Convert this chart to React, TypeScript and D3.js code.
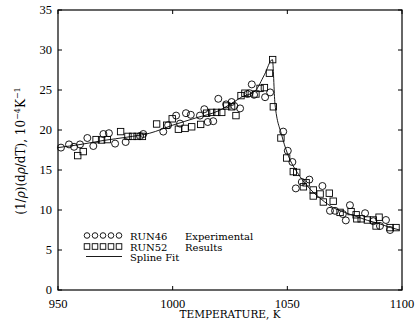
import React from "react";
import * as d3 from "d3";

// RUN46 measurements (temperature K, value 10^-4 K^-1)
const run46T = [951.3, 954.8, 957, 959.6, 962.8, 965.4, 969.8, 972.2, 974.9, 979.5, 985.8, 987.2, 995.9, 998, 1001.5, 1003.2, 1005.8, 1007.9, 1011.9, 1013.8, 1015.3, 1017.7, 1019.9, 1023.3, 1025.7, 1026.9, 1029.4, 1032.6, 1033.5, 1034.5, 1035.5, 1040.3, 1042.5, 1048.2, 1050.2, 1052.2, 1053.7, 1056.3, 1059.6, 1065.3, 1068.6, 1070.8, 1074.2, 1075.5, 1077.3, 1083.9, 1087.5, 1090.4, 1093, 1094.8];
const run46V = [17.8, 18.2, 17.9, 18.2, 19.0, 18.0, 19.5, 19.6, 18.3, 18.5, 19.25, 19.5, 19.8, 20.6, 21.8, 20.8, 22.1, 21.9, 21.8, 22.6, 21.0, 21.1, 23.9, 23.2, 23.5, 23.0, 22.7, 24.5, 24.6, 25.7, 24.4, 24.1, 24.7, 19.8, 17.4, 16.0, 12.7, 13.5, 13.8, 13.0, 9.9, 9.9, 9.5, 8.7, 10.6, 9.6, 8.6, 8.0, 8.75, 7.5];

// RUN52 measurements
const run52T = [958.6, 961, 966.6, 969, 971.5, 977.3, 980.5, 982.5, 984.5, 986.8, 993, 997.4, 999.8, 1002.5, 1005.4, 1008.3, 1012.2, 1014.8, 1017, 1019.2, 1021.4, 1023.6, 1025.7, 1027.6, 1029.8, 1031.5, 1036.3, 1038.1, 1040, 1042.2, 1043.6, 1043.9, 1047.2, 1049.7, 1052.6, 1054.1, 1057, 1058.2, 1061.3, 1061.3, 1064.3, 1065.7, 1068.3, 1070, 1073, 1077.8, 1080, 1080.3, 1082.2, 1084.9, 1087.5, 1088.7, 1090, 1094.8, 1097.4];
const run52V = [16.8, 17.3, 18.8, 18.75, 18.8, 19.8, 19.2, 19.2, 19.2, 19.2, 20.75, 20.6, 21.4, 20.1, 20.2, 20.4, 20.7, 22.1, 22.2, 22.2, 22.2, 23.0, 22.9, 21.8, 24.3, 24.6, 24.5, 25.2, 25.3, 27.1, 28.8, 22.9, 19.0, 16.5, 14.8, 14.7, 12.9, 13.4, 12.5, 11.75, 12.0, 11.0, 12.1, 11.1, 9.7, 9.8, 9.4, 8.9, 8.9, 8.75, 8.75, 8.0, 9.1, 7.8, 7.8];

// Spline fit knots
const splineT = [950, 960, 970, 980, 990, 1000, 1010, 1020, 1025, 1030, 1036, 1040, 1043.5, 1044.6, 1047.5, 1050, 1055, 1060, 1065, 1070, 1075, 1080, 1085, 1090, 1095, 1099];
const splineV = [17.8, 18.2, 18.7, 19.1, 19.6, 20.6, 21.5, 22.4, 23.2, 24.1, 24.9, 26.9, 28.8, 23.3, 19.4, 17.1, 14.4, 12.6, 11.3, 10.3, 9.7, 9.2, 8.7, 8.3, 7.8, 7.5];

const xTicks = [950, 1000, 1050, 1100];
const yTicks = [0, 5, 10, 15, 20, 25, 30, 35];

const W = 418, H = 327;
const M = { left: 58, right: 402, top: 10, bottom: 290 };
const NUM_FONT = "'Liberation Serif', serif";
const TEXT_FONT = "'DejaVu Serif', serif";

export default function App() {
  const x = d3.scaleLinear().domain([950, 1100]).range([M.left, M.right]);
  const y = d3.scaleLinear().domain([0, 35]).range([M.bottom, M.top]);

  const fit = d3
    .line<number>()
    .x((_, i) => x(splineT[i]))
    .y((v) => y(v))
    .curve(d3.curveMonotoneX)(splineV) as string;

  const tick = 4;
  const sq = 6.4;

  return (
    <svg width={W} height={H} style={{ position: "absolute", left: 0, top: 0, background: "#fff" }}>
      {/* spline */}
      <path d={fit} fill="none" stroke="#000" strokeWidth={0.9} />

      {/* RUN46 circles */}
      {run46T.map((t, i) => (
        <circle key={"c" + i} cx={x(t)} cy={y(run46V[i])} r={3.5} fill="none" stroke="#000" strokeWidth={0.9} />
      ))}
      {/* RUN52 squares */}
      {run52T.map((t, i) => (
        <rect key={"s" + i} x={x(t) - sq / 2} y={y(run52V[i]) - sq / 2} width={sq} height={sq} fill="none" stroke="#000" strokeWidth={0.9} />
      ))}

      {/* frame */}
      <rect x={M.left} y={M.top} width={M.right - M.left} height={M.bottom - M.top} fill="none" stroke="#000" strokeWidth={1.2} />

      {/* y ticks, both sides */}
      {yTicks.map((v) => (
        <g key={"y" + v}>
          <line x1={M.left} x2={M.left + tick} y1={y(v)} y2={y(v)} stroke="#000" strokeWidth={1} />
          <line x1={M.right} x2={M.right - tick} y1={y(v)} y2={y(v)} stroke="#000" strokeWidth={1} />
          <text x={M.left - 6} y={y(v)} dy="0.35em" textAnchor="end" fontSize={12.5} fontFamily={NUM_FONT}>{v}</text>
        </g>
      ))}
      {/* x ticks, top and bottom */}
      {xTicks.map((t) => (
        <g key={"x" + t}>
          <line x1={x(t)} x2={x(t)} y1={M.bottom} y2={M.bottom - tick} stroke="#000" strokeWidth={1} />
          <line x1={x(t)} x2={x(t)} y1={M.top} y2={M.top + tick} stroke="#000" strokeWidth={1} />
          <text x={x(t)} y={308} textAnchor="middle" fontSize={12.5} fontFamily={NUM_FONT}>{t}</text>
        </g>
      ))}

      {/* axis titles */}
      <text x={230} y={318} textAnchor="middle" fontSize={10.5} fontFamily={TEXT_FONT}>TEMPERATURE,  K</text>
      <text transform={`translate(25,151) rotate(-90)`} textAnchor="middle" fontSize={12} fontFamily={TEXT_FONT}>
        <tspan>(1/</tspan><tspan fontStyle="italic">ρ</tspan><tspan>)(d</tspan><tspan fontStyle="italic">ρ</tspan><tspan>/dT),  10</tspan>
        <tspan dy={-5} fontSize={8}>−4</tspan>
        <tspan dy={5}>K</tspan>
        <tspan dy={-5} fontSize={8}>−1</tspan>
      </text>

      {/* legend */}
      {[0, 1, 2, 3, 4].map((k) => (
        <circle key={"lc" + k} cx={87 + k * 8} cy={235.5} r={2.8} fill="none" stroke="#000" strokeWidth={0.9} />
      ))}
      {[0, 1, 2, 3, 4].map((k) => (
        <rect key={"ls" + k} x={87 + k * 8 - 2.8} y={246.5 - 2.8} width={5.6} height={5.6} fill="none" stroke="#000" strokeWidth={0.9} />
      ))}
      <line x1={86} x2={122} y1={256.5} y2={256.5} stroke="#000" strokeWidth={0.9} />
      <g fontFamily={TEXT_FONT} fontSize={10}>
        <text x={130} y={239.5}>RUN46</text>
        <text x={185} y={239.5}>Experimental</text>
        <text x={130} y={250.5}>RUN52</text>
        <text x={185} y={250.5}>Results</text>
        <text x={130} y={260.5}>Spline Fit</text>
      </g>
    </svg>
  );
}
